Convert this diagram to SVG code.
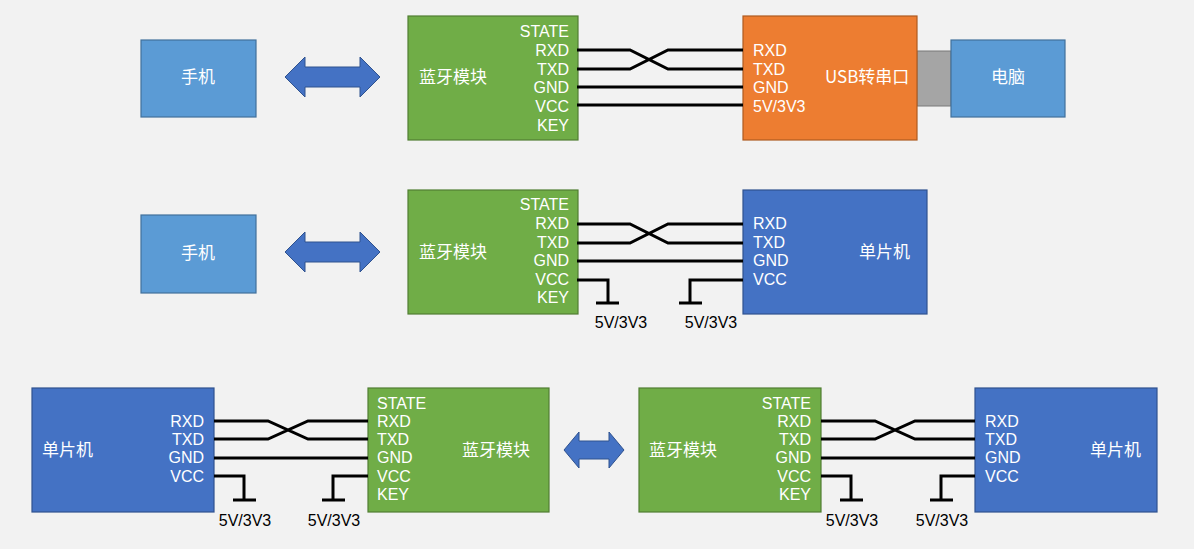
<svg xmlns="http://www.w3.org/2000/svg" width="1194" height="549" viewBox="0 0 1194 549">
<style>
text{font-family:"Liberation Sans","Noto Sans CJK SC",sans-serif;font-size:16px;fill:#fff}
.c{font-family:"Noto Sans CJK SC",sans-serif;font-size:17px}
.k{fill:#000}
.r{text-anchor:end}
.g{fill:#70ad47;stroke:#507e32;stroke-width:1.2}
.lb{fill:#5b9bd5;stroke:#41719c;stroke-width:1.2}
.db{fill:#4472c4;stroke:#2f528f;stroke-width:1.2}
.or{fill:#ed7d31;stroke:#ae5a21;stroke-width:1.2}
.ar{fill:#4472c4;stroke:#2f528f;stroke-width:1}
.w{fill:none;stroke:#000;stroke-width:3}
</style>
<rect width="1194" height="549" fill="#f2f2f2"/>
<g id="phone1"><rect class="lb" x="141" y="40" width="115" height="77"/><text class="c" x="198" y="83" text-anchor="middle">手机</text></g>
<g id="arrow1"><polygon class="ar" points="285,77 305,57 305,67 360,67 360,57 380,77 360,97 360,87 305,87 305,97"/></g>
<g id="bt1"><rect class="g" x="408" y="16" width="170" height="124"/>
<text class="c" x="419" y="83">蓝牙模块</text>
<text class="r" x="569" y="37">STATE</text><text class="r" x="569" y="56">RXD</text><text class="r" x="569" y="75">TXD</text><text class="r" x="569" y="93">GND</text><text class="r" x="569" y="112">VCC</text><text class="r" x="569" y="131">KEY</text></g>
<g id="usb"><rect x="917" y="51" width="34" height="55" fill="#a5a5a5" stroke="#787878"/><rect class="or" x="743" y="16" width="174" height="124"/>
<text x="753" y="56">RXD</text><text x="753" y="75">TXD</text><text x="753" y="93">GND</text><text x="753" y="112">5V/3V3</text><text class="c" x="825" y="83">USB转串口</text></g>
<g id="pc"><rect class="lb" x="951" y="40" width="114" height="77"/><text class="c" x="1008" y="83" text-anchor="middle">电脑</text></g>

<g id="phone2"><rect class="lb" x="141" y="215" width="115" height="78"/><text class="c" x="198" y="259" text-anchor="middle">手机</text></g>
<g id="arrow2"><polygon class="ar" points="285,252 305,232 305,242 360,242 360,232 380,252 360,272 360,262 305,262 305,272"/></g>
<g id="bt2"><rect class="g" x="408" y="190" width="170" height="124"/>
<text class="c" x="419" y="258">蓝牙模块</text>
<text class="r" x="569" y="210">STATE</text><text class="r" x="569" y="229">RXD</text><text class="r" x="569" y="248">TXD</text><text class="r" x="569" y="266">GND</text><text class="r" x="569" y="285">VCC</text><text class="r" x="569" y="303">KEY</text></g>
<g id="mcu2"><rect class="db" x="743" y="190" width="184" height="124"/>
<text x="753" y="229">RXD</text><text x="753" y="248">TXD</text><text x="753" y="266">GND</text><text x="753" y="285">VCC</text><text class="c" x="859" y="258">单片机</text></g>
<text class="k" x="621" y="328" text-anchor="middle">5V/3V3</text>
<text class="k" x="711" y="328" text-anchor="middle">5V/3V3</text>

<g id="mcu3l"><rect class="db" x="32" y="388" width="182" height="124"/>
<text class="c" x="42" y="456">单片机</text>
<text class="r" x="204" y="427">RXD</text><text class="r" x="204" y="445">TXD</text><text class="r" x="204" y="463">GND</text><text class="r" x="204" y="482">VCC</text></g>
<g id="bt3l"><rect class="g" x="368" y="388" width="181" height="124"/>
<text x="377" y="409">STATE</text><text x="377" y="427">RXD</text><text x="377" y="445">TXD</text><text x="377" y="463">GND</text><text x="377" y="482">VCC</text><text x="377" y="500">KEY</text><text class="c" x="462" y="456">蓝牙模块</text></g>
<g id="arrow3"><polygon class="ar" points="564,450 579,432 579,441 609,441 609,432 624,450 609,468 609,459 579,459 579,468"/></g>
<g id="bt3r"><rect class="g" x="639" y="388" width="182" height="124"/>
<text class="c" x="649" y="456">蓝牙模块</text>
<text class="r" x="811" y="409">STATE</text><text class="r" x="811" y="427">RXD</text><text class="r" x="811" y="445">TXD</text><text class="r" x="811" y="463">GND</text><text class="r" x="811" y="482">VCC</text><text class="r" x="811" y="500">KEY</text></g>
<g id="mcu3r"><rect class="db" x="975" y="388" width="182" height="124"/>
<text x="985" y="427">RXD</text><text x="985" y="445">TXD</text><text x="985" y="463">GND</text><text x="985" y="482">VCC</text><text class="c" x="1090" y="456">单片机</text></g>
<text class="k" x="245" y="526" text-anchor="middle">5V/3V3</text>
<text class="k" x="334" y="526" text-anchor="middle">5V/3V3</text>
<text class="k" x="852" y="526" text-anchor="middle">5V/3V3</text>
<text class="k" x="942" y="526" text-anchor="middle">5V/3V3</text>

<g id="connectors">
<path class="w" d="M577,50H630L668,69H743M577,69H630L668,50H743M577,87H743M577,105H743"/>
<path class="w" d="M577,224H630L668,243H743M577,243H630L668,224H743M577,261H743"/>
<path class="w" d="M577,280H608V303M596,303H619M743,280H690V303M679,303H702"/>
<path class="w" d="M214,421H268L308,439H368M214,439H268L308,421H368M214,458H368"/>
<path class="w" d="M214,476H244V500M233,500H256M368,476H333V500M322,500H345"/>
<path class="w" d="M821,421H875L915,439H975M821,439H875L915,421H975M821,458H975"/>
<path class="w" d="M821,476H851V500M840,500H863M975,476H941V500M930,500H953"/>
</g>
</svg>
